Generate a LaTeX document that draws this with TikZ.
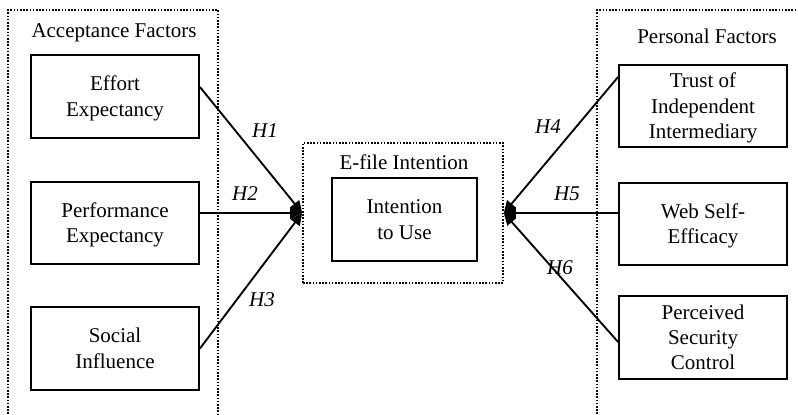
\documentclass[tikz,border=0pt]{standalone}
\usepackage{fontspec}
\setmainfont{Liberation Serif}
\usetikzlibrary{arrows.meta,calc}
\newcommand{\lnS}{\rule[-3.5pt]{0pt}{17.5pt}}
\begin{document}
\begin{tikzpicture}[x=0.75pt,y=-0.75pt,
  font=\fontsize{15.75}{19}\selectfont,
  factor/.style={draw,line width=1.4pt,align=center,inner sep=0pt,
    minimum width=126pt,minimum height=62pt},
  title/.style={inner sep=0pt},
  container/.style={line width=1.2pt,dash pattern=on 1.2pt off 1.2pt},
  link/.style={line width=1.4pt,-{Triangle[length=9pt,width=8.5pt]}},
  hyp/.style={font=\fontsize{15.75}{19}\selectfont\itshape}]
\useasboundingbox (0,0) rectangle (798,414);
% containers
\draw[container] (8,414) -- (8,10) -- (218,10) -- (218,414);
\draw[container] (597,414) -- (597,10) -- (800,10);
\node[container,draw,minimum width=150pt,minimum height=105pt,inner sep=0pt] (ef) at (403,213) {};
\node[title] (accT) at (114,30) {\lnS Acceptance Factors};
\node[title] (perT) at (707,36) {\lnS Personal Factors};
\node[title] (efT) at (404,162) {\lnS E-file Intention};
% boxes
\node[factor] (eff) at (115,96.5) {\lnS Effort\\Expectancy\lnS};
\node[factor] (perf) at (115,223) {\lnS Performance\\Expectancy\lnS};
\node[factor] (soc) at (115,348.5) {\lnS Social\\Influence\lnS};
\node[factor,minimum width=108.75pt] (itu) at (404.5,219.5) {\lnS Intention\\to Use\lnS};
\node[factor] (tru) at (703,106) {\lnS Trust of\\Independent\\Intermediary\lnS};
\node[factor] (web) at (703,224) {\lnS Web Self-\\Efficacy\lnS};
\node[factor] (psc) at (703,337.5) {\lnS Perceived\\Security\\Control\lnS};
% connectors
\draw[link] ($(eff.east)+(0,-9.5)$) -- (ef.west);
\draw[link] ($(perf.east)+(0,-10)$) -- (ef.west);
\draw[link] (soc.east) -- (ef.west);
\draw[link] ($(tru.west)+(0,-29)$) -- (ef.east);
\draw[link] ($(web.west)+(0,-11)$) -- (ef.east);
\draw[link] ($(psc.west)+(0,4.5)$) -- (ef.east);
% hypothesis labels
\node[hyp] (h1) at (265,131) {H1};
\node[hyp] (h2) at (245,194) {H2};
\node[hyp] (h3) at (262,300) {H3};
\node[hyp] (h4) at (548,127) {H4};
\node[hyp] (h5) at (567,194) {H5};
\node[hyp] (h6) at (560,268) {H6};
\end{tikzpicture}
\end{document}
